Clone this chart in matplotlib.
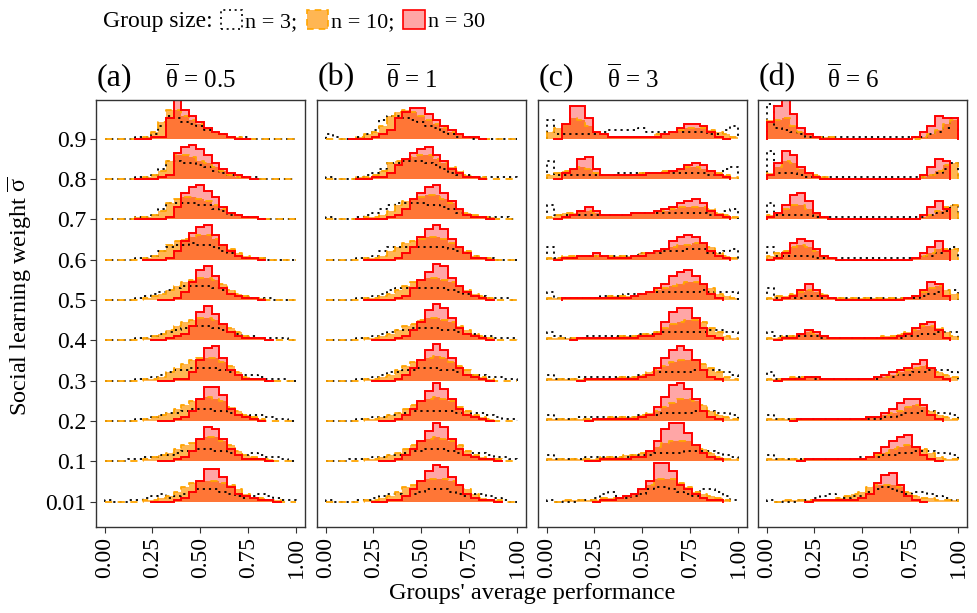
import numpy as np
import matplotlib.pyplot as plt
from matplotlib.patches import Patch

plt.rcParams['font.family'] = ['Liberation Serif', 'DejaVu Serif']
plt.rcParams['mathtext.fontset'] = 'custom'
plt.rcParams['mathtext.rm'] = 'Liberation Serif'
plt.rcParams['mathtext.it'] = 'Liberation Serif:italic'

# social learning weight of each ridge, listed top row first
sigma_labels = ["0.9", "0.8", "0.7", "0.6", "0.5", "0.4", "0.3", "0.2", "0.1", "0.01"]
theta_labels = ["0.5", "1", "3", "6"]
panel_tags = ["(a)", "(b)", "(c)", "(d)"]
x_ticks = [0.0, 0.25, 0.5, 0.75, 1.0]
x_tick_labels = ["0.00", "0.25", "0.50", "0.75", "1.00"]
bin_edges = np.linspace(0, 1, 26)

# bar heights per bin of width 0.04, in 1/20 of the ridge spacing; "-" = no data there
a_n3 = [
    "0 0 0 0 1 1 2 6 11 10 8 7 6 4 3 2 1 1 1 0 0 0 0 0 0",
    "0 0 0 0 1 1 2 5 9 9 8 8 7 6 4 3 2 1 1 1 0 0 0 0 0",
    "0 0 0 0 1 1 2 5 8 8 8 8 7 7 5 4 2 2 1 1 0 0 0 0 0",
    "0 0 0 0 1 1 2 4 6 7 7 8 7 7 6 4 3 2 1 1 1 0 0 0 0",
    "0 0 0 0 1 2 3 4 5 6 7 7 7 7 6 5 3 2 2 1 1 1 0 0 0",
    "0 0 0 0 1 1 2 3 4 5 6 7 7 7 6 5 4 3 2 2 1 1 1 1 0",
    "0 0 0 0 1 1 2 3 4 5 5 6 6 6 6 5 4 3 3 3 2 1 1 1 0",
    "0 0 0 0 1 1 2 3 4 4 5 6 6 6 5 5 4 3 2 3 3 2 1 1 0",
    "0 0 0 1 1 2 2 3 3 4 5 5 6 6 5 5 4 3 3 4 3 2 2 1 0",
    "1 0 0 1 1 2 3 4 2 3 4 5 6 6 6 5 4 3 2 3 4 3 2 1 1",
]
a_n10 = [
    "0 0 0 0 0 1 3 8 14 14 11 9 7 5 3 2 1 1 0 0 0 0 0 0 0",
    "0 0 0 0 0 1 2 4 9 12 12 11 9 8 6 4 2 1 1 0 0 0 0 0 0",
    "0 0 0 0 1 1 2 4 8 10 11 11 10 9 7 5 3 2 1 1 0 0 0 0 0",
    "0 0 0 0 0 1 2 4 7 9 10 11 12 12 10 7 5 3 2 1 1 0 0 0 0",
    "0 0 0 0 0 1 2 3 5 7 9 10 11 11 10 8 5 3 2 1 1 0 0 0 0",
    "0 0 0 0 0 1 2 3 5 7 9 10 11 11 10 8 6 4 2 1 1 0 0 0 0",
    "0 0 0 0 0 1 1 2 4 6 8 10 11 11 11 9 7 4 2 1 1 0 0 0 0",
    "0 0 0 0 0 1 2 3 4 6 8 10 11 12 11 10 7 5 3 2 1 0 0 0 0",
    "0 0 0 0 0 1 2 3 4 6 8 9 11 12 12 10 8 5 3 2 1 1 0 0 0",
    "0 0 0 0 0 1 1 2 3 5 7 9 10 10 10 9 8 6 4 2 2 1 1 0 0",
]
a_n30 = [
    "- - - - 0 0 1 1 10 19 14 11 8 5 3 2 1 0 0 - - - - - -",
    "- - - - 0 0 0 1 2 13 16 17 15 12 8 5 3 2 1 0 - - - - -",
    "- - - - 0 0 0 0 1 6 13 16 17 14 11 6 3 2 1 1 0 - - - -",
    "- - - - - 0 0 0 1 4 9 13 16 17 12 7 4 2 1 1 0 - - - -",
    "- - - - - - - 0 0 1 4 9 15 17 12 6 3 2 1 1 0 - - - -",
    "- - - - - - 0 0 1 2 3 7 14 17 13 8 4 2 1 1 1 0 - - -",
    "- - - - - - - 0 0 1 1 4 10 16 17 11 5 3 1 1 1 0 - - -",
    "- - - - - - - 0 0 1 2 5 11 17 17 13 6 3 2 1 0 - - - -",
    "- - - - - - - 0 0 1 2 5 11 17 16 11 6 3 1 1 1 0 - - -",
    "- - - - - - 0 0 0 1 2 5 10 16 16 12 7 4 3 2 1 1 0 - -",
]

b_n3 = [
    "2 1 0 0 1 2 4 9 11 11 10 9 8 6 5 3 2 1 1 0 0 0 0 0 0",
    "1 0 0 0 1 2 3 5 8 8 9 9 9 8 7 5 3 2 2 1 1 1 1 1 1",
    "1 0 0 0 1 2 3 5 7 8 8 8 8 7 7 6 5 3 2 1 1 1 1 1 0",
    "0 0 0 0 1 1 2 4 6 6 6 6 6 6 6 6 5 4 3 2 1 1 0 0 0",
    "0 0 0 0 1 1 2 3 5 6 6 6 6 6 6 6 5 4 3 2 2 1 1 1 0",
    "0 0 0 0 1 1 2 3 4 5 5 6 6 6 6 5 5 4 3 3 2 2 1 1 1",
    "0 0 0 0 1 1 2 3 4 4 5 5 6 6 6 5 5 4 3 3 3 2 2 1 1",
    "0 0 0 0 1 1 2 2 3 4 4 5 5 5 5 5 5 4 3 4 4 3 2 1 1",
    "0 0 0 1 1 1 2 2 3 3 4 5 5 6 6 6 5 4 3 4 4 3 2 2 1",
    "1 0 0 0 1 1 2 3 4 4 3 4 5 6 6 6 5 4 3 4 4 3 2 1 0",
]
b_n10 = [
    "0 0 0 0 1 2 3 6 11 13 14 13 11 9 7 5 3 2 1 1 0 0 0 0 0",
    "0 0 0 0 1 1 2 4 8 9 10 11 12 12 10 8 6 4 2 1 1 0 0 0 0",
    "0 0 0 0 0 1 1 2 4 7 9 10 11 12 12 10 8 5 3 2 1 1 0 0 0",
    "0 0 0 0 0 1 1 2 4 6 8 9 10 11 11 10 8 6 4 2 1 1 0 0 0",
    "0 0 0 0 0 1 1 2 3 5 7 9 10 11 11 10 9 7 5 3 2 1 0 0 0",
    "0 0 0 0 0 1 1 2 3 5 7 8 10 11 11 10 9 7 5 3 2 1 0 0 0",
    "0 0 0 0 0 1 1 2 3 5 7 9 10 11 12 11 9 7 5 3 2 1 0 0 0",
    "0 0 0 0 0 1 1 2 3 4 6 8 10 11 12 11 10 7 5 3 2 1 0 0 0",
    "0 0 0 0 0 1 1 2 3 4 6 8 10 11 12 11 10 8 5 3 2 1 1 0 0",
    "0 0 0 0 0 1 1 2 3 5 7 8 10 11 11 11 10 8 6 4 2 1 1 0 0",
]
b_n30 = [
    "- - - 0 0 0 1 2 4 10 13 15 15 12 9 6 4 2 1 1 0 - - - -",
    "- - - - 0 0 1 1 3 7 10 13 15 16 12 9 5 3 1 1 0 - - - -",
    "- - - - 0 0 0 0 1 2 5 10 13 16 17 13 9 5 2 1 1 0 - - -",
    "- - - - - 0 0 0 0 1 3 6 11 15 17 15 10 6 3 1 1 0 - - -",
    "- - - - - 0 0 0 0 1 2 6 10 14 18 17 11 7 4 2 1 0 - - -",
    "- - - - - - 0 0 0 1 2 5 9 15 18 16 11 6 3 2 1 0 - - -",
    "- - - - - - 0 0 0 1 3 6 10 15 18 15 11 6 3 2 1 0 - - -",
    "- - - - - - - 0 0 1 3 6 10 15 19 16 11 6 3 2 1 0 - - -",
    "- - - - - - - 0 0 1 3 6 10 15 19 17 11 6 3 2 1 1 0 - -",
    "- - - - - - 0 0 1 1 3 6 10 15 18 17 12 8 4 2 1 1 0 - -",
]

c_n3 = [
    "9 2 2 2 2 2 2 3 4 4 4 4 5 3 3 3 3 3 3 3 3 2 2 4 6",
    "9 2 2 2 2 2 2 2 2 3 3 3 3 3 3 3 3 3 3 3 3 2 2 5 6",
    "7 2 2 2 2 2 2 2 2 2 2 3 3 3 3 3 3 3 3 3 3 2 2 4 5",
    "6 1 1 1 2 2 2 2 2 2 2 2 3 3 3 4 4 4 5 5 5 3 3 4 5",
    "4 1 1 1 1 1 1 2 2 2 3 3 3 4 4 4 4 4 4 4 5 4 4 4 4",
    "4 2 1 1 1 2 2 2 2 2 2 2 3 3 4 4 4 4 4 4 4 5 5 4 4",
    "3 1 1 1 2 2 2 2 2 2 2 2 3 3 4 4 4 4 4 5 5 5 5 4 3",
    "3 1 1 1 2 2 2 2 2 2 2 2 3 3 3 4 4 4 4 5 5 5 4 4 3",
    "3 1 1 1 1 2 2 2 2 2 2 3 3 3 4 4 4 4 5 5 5 5 4 3 2",
    "1 0 0 0 1 1 2 4 5 2 2 3 4 6 7 7 6 5 4 3 6 6 5 3 1",
]
c_n10 = [
    "3 5 7 10 9 6 3 2 1 1 1 1 1 1 2 2 3 4 5 5 5 4 3 2 1",
    "2 3 4 5 6 5 3 2 2 2 2 2 3 3 3 4 4 5 6 6 5 4 3 2 1",
    "1 2 3 3 4 4 3 2 2 2 2 3 3 3 4 4 5 6 6 6 6 5 3 2 1",
    "1 1 2 2 2 2 2 2 2 2 2 2 3 3 4 5 6 7 7 8 8 6 3 2 1",
    "1 1 1 1 1 1 1 1 2 2 2 2 3 4 5 6 7 8 9 9 8 6 3 2 1",
    "1 1 1 1 1 1 1 1 1 2 2 2 3 3 4 6 8 9 10 10 9 6 4 2 1",
    "1 1 1 1 1 1 1 1 1 2 2 2 3 4 5 7 9 10 10 10 8 6 4 2 1",
    "1 1 1 1 1 1 1 1 2 2 2 2 3 4 5 7 9 11 11 10 8 5 3 2 1",
    "1 1 1 1 1 1 1 2 2 2 3 3 4 5 7 9 10 10 10 8 6 4 2 1 1",
    "- 0 1 1 1 1 1 2 2 2 3 4 6 8 11 11 11 9 7 5 4 3 2 1 -",
]
c_n30 = [
    "- 0 7 16 16 10 3 2 1 1 1 1 1 1 1 2 3 5 7 7 6 3 1 0 -",
    "- 0 3 5 10 11 5 2 2 2 2 2 2 3 3 3 4 5 7 8 7 4 2 1 -",
    "- 0 1 2 4 6 4 2 2 2 2 3 3 3 4 5 6 8 9 10 8 4 2 1 -",
    "- 0 1 1 2 2 3 2 1 1 1 2 2 3 4 5 9 11 12 11 8 4 2 1 -",
    "- - 1 1 1 1 1 1 1 1 1 2 3 4 6 8 12 14 15 12 8 3 1 - -",
    "- - - 0 1 1 1 1 1 1 1 1 2 2 3 9 14 16 16 11 6 2 1 - -",
    "- - - - 0 1 1 1 1 1 1 1 2 3 6 11 15 17 15 10 5 2 1 - -",
    "- - - - - 0 1 1 1 1 1 1 2 3 7 12 18 19 16 11 5 2 1 - -",
    "- - - - - 0 0 1 1 1 1 2 2 5 10 16 19 19 14 8 4 2 1 - -",
    "- - - - - - 0 1 1 2 3 4 6 10 19 19 15 8 6 4 2 1 1 - -",
]

d_n3 = [
    "17 5 4 3 2 1 1 1 1 1 1 1 1 1 1 1 1 1 1 1 1 2 3 5 10",
    "14 3 3 3 2 1 1 1 1 1 1 1 1 1 1 1 1 1 1 1 1 2 3 5 8",
    "8 2 2 2 2 2 1 1 1 1 1 1 1 1 1 1 1 1 1 1 1 2 3 4 7",
    "6 2 2 2 2 2 1 1 1 1 1 1 1 1 1 1 1 1 1 1 2 2 3 4 6",
    "6 1 1 1 1 2 2 1 1 1 1 1 1 1 1 1 1 1 1 1 2 3 4 5 5",
    "4 2 2 2 2 2 2 1 1 1 1 1 1 1 1 1 1 1 2 2 3 3 4 4 4",
    "4 1 1 1 2 2 1 1 1 1 1 1 1 1 1 2 2 3 3 4 4 5 5 5 4",
    "3 1 1 1 1 1 1 1 1 1 1 1 1 1 1 2 2 3 4 4 5 5 4 4 3",
    "3 1 1 1 1 1 1 1 1 1 1 1 2 2 2 3 3 4 4 5 5 5 4 4 3",
    "1 0 0 0 1 1 2 3 4 2 2 3 3 5 6 7 6 5 4 5 5 4 3 2 1",
]
d_n10 = [
    "9 9 10 6 3 2 1 1 1 0 0 0 0 0 0 0 0 0 0 0 1 2 4 7 9",
    "3 6 9 8 5 3 2 1 0 0 0 0 0 0 0 0 0 0 0 0 1 2 4 7 8",
    "2 3 5 7 7 5 3 1 0 0 0 0 0 0 0 0 0 0 0 0 1 2 4 6 7",
    "2 3 4 6 7 6 4 2 1 0 0 0 0 0 0 0 0 0 0 1 2 3 5 5 5",
    "1 2 2 3 4 5 4 3 1 1 1 1 1 1 1 1 1 1 1 2 4 6 7 5 3",
    "1 1 2 2 3 4 3 2 1 1 1 1 1 1 1 2 2 3 4 5 7 7 6 4 2",
    "1 1 1 2 2 2 2 1 1 1 1 1 1 1 2 2 3 4 5 6 7 6 4 3 2",
    "1 1 1 1 1 1 1 1 1 1 1 1 1 2 2 3 4 5 7 8 7 5 3 2 1",
    "1 1 1 1 1 1 1 1 1 1 1 1 1 2 3 4 6 7 8 7 6 4 2 1 1",
    "- 0 1 1 1 1 1 1 1 2 3 4 5 7 8 8 8 7 5 3 2 2 1 1 1",
]
d_n30 = [
    "8 16 19 12 5 2 1 0 0 0 0 0 0 0 0 0 0 0 0 1 3 6 11 10 10",
    "2 8 14 12 6 3 1 0 0 0 0 0 0 0 0 0 0 0 0 0 2 6 10 9 -",
    "1 3 7 12 13 9 3 1 0 0 0 0 0 0 0 0 0 0 0 0 2 6 9 5 -",
    "0 1 3 8 10 9 5 2 1 0 0 0 0 0 0 0 0 0 0 1 3 6 9 4 -",
    "- 0 1 2 5 8 5 2 1 0 0 0 0 0 0 0 0 0 1 2 5 9 8 2 -",
    "- 0 1 1 3 5 4 2 1 1 1 1 1 1 1 1 1 2 3 6 8 9 5 1 -",
    "- 0 1 1 1 2 2 1 1 1 1 1 1 1 2 3 4 5 6 8 10 6 2 1 -",
    "- - - 0 1 1 1 1 1 1 1 1 1 2 2 4 6 9 11 11 8 3 1 - -",
    "- - - - 0 1 1 1 1 1 1 1 1 2 4 7 10 12 13 7 3 1 0 - -",
    "- - - - - 0 1 1 1 1 1 1 2 4 9 13 14 8 3 1 0 - - - -",
]

panels = [
    (a_n3, a_n10, a_n30),
    (b_n3, b_n10, b_n30),
    (c_n3, c_n10, c_n30),
    (d_n3, d_n10, d_n30),
]

unit = 0.05  # one height step as a fraction of the ridge spacing

orange_fill = (1.0, 0.62, 0.10, 0.75)
red_fill = (1.0, 0.0, 0.0, 0.35)

styles = [
    dict(fill=None, edge="black", ls=(0, (1.2, 2.2)), lw=1.3),
    dict(fill=orange_fill, edge="#FFA500", ls=(0, (4, 3)), lw=1.3),
    dict(fill=red_fill, edge="red", ls="-", lw=1.4),
]


def draw_hist(ax, base, row, fill, edge, ls, lw):
    vals = row.split()
    used = [i for i, v in enumerate(vals) if v != "-"]
    lo, hi = used[0], used[-1] + 1
    h = np.array([float(vals[i]) for i in range(lo, hi)]) * unit
    x = np.repeat(bin_edges[lo:hi + 1], 2)
    y = np.concatenate([[0], np.repeat(h, 2), [0]]) + base
    if fill is not None:
        ax.fill_between(x, base, y, facecolor=fill, edgecolor="none", linewidth=0)
    ax.plot(x, y, color=edge, linestyle=ls, linewidth=lw, solid_joinstyle="miter")


fig = plt.figure(figsize=(9.78, 6.13), dpi=100)

W, H = 978, 613
lefts = [96, 317, 538, 758]
pw = 209
top, bottom = 100, 527

n_rows = len(sigma_labels)
for k, (tag, theta, series) in enumerate(zip(panel_tags, theta_labels, panels)):
    ax = fig.add_axes([lefts[k] / W, 1 - bottom / H, pw / W, (bottom - top) / H])
    for r in range(n_rows):
        base = n_rows - 1 - r
        for data, st in zip(series, styles):
            draw_hist(ax, base, data[r], st["fill"], st["edge"], st["ls"], st["lw"])

    ax.set_xlim(-0.045, 1.047)
    ax.set_ylim(-0.63, 9.955)
    ax.set_xticks(x_ticks)
    ax.set_xticklabels(x_tick_labels, rotation=90, fontsize=17)
    ax.set_yticks(range(n_rows))
    if k == 0:
        ax.set_yticklabels(sigma_labels[::-1], fontsize=17)
    else:
        ax.set_yticklabels([])
    ax.tick_params(length=4, width=0.8, pad=3, colors="#333333", labelcolor="black")
    if k != 0:
        ax.tick_params(axis="y", length=0)
    for sp in ax.spines.values():
        sp.set_linewidth(1.0)
        sp.set_color("#333333")

    ax.text(0.005, 1.052, tag, transform=ax.transAxes, fontsize=23,
            ha="left", va="center")
    ax.text(0.33, 1.052, r"$\overline{\mathrm{\theta}}$ = " + theta,
            transform=ax.transAxes, fontsize=18, ha="left", va="center")

fig.text(532 / W, 1 - 594 / H, "Groups' average performance", fontsize=17.5,
         ha="center", va="center")
fig.text(20 / W, 1 - 296 / H, r"Social learning weight $\overline{\mathrm{\sigma}}$",
         fontsize=17.5, rotation=90, ha="center", va="center")

# legend row across the top
fig.text(103 / W, 1 - 21 / H, "Group size:", fontsize=17, ha="left", va="center")
handles = [
    Patch(facecolor="none", edgecolor="black", linestyle=(0, (1.2, 2.2)), linewidth=1.2),
    Patch(facecolor=orange_fill, edgecolor="#FFA500", linestyle=(0, (4, 3)), linewidth=1.2),
    Patch(facecolor=red_fill, edgecolor="red", linewidth=1.2),
]
fig.legend(handles, ["n = 3;", "n = 10;", "n = 30"], ncol=3, frameon=False,
           loc="center left", bbox_to_anchor=(221 / W, 1 - 21 / H), fontsize=16,
           handlelength=0.95, handleheight=0.95, handletextpad=0.15,
           columnspacing=0.4, borderpad=0, borderaxespad=0)

fig.savefig("out.png", dpi=100)
